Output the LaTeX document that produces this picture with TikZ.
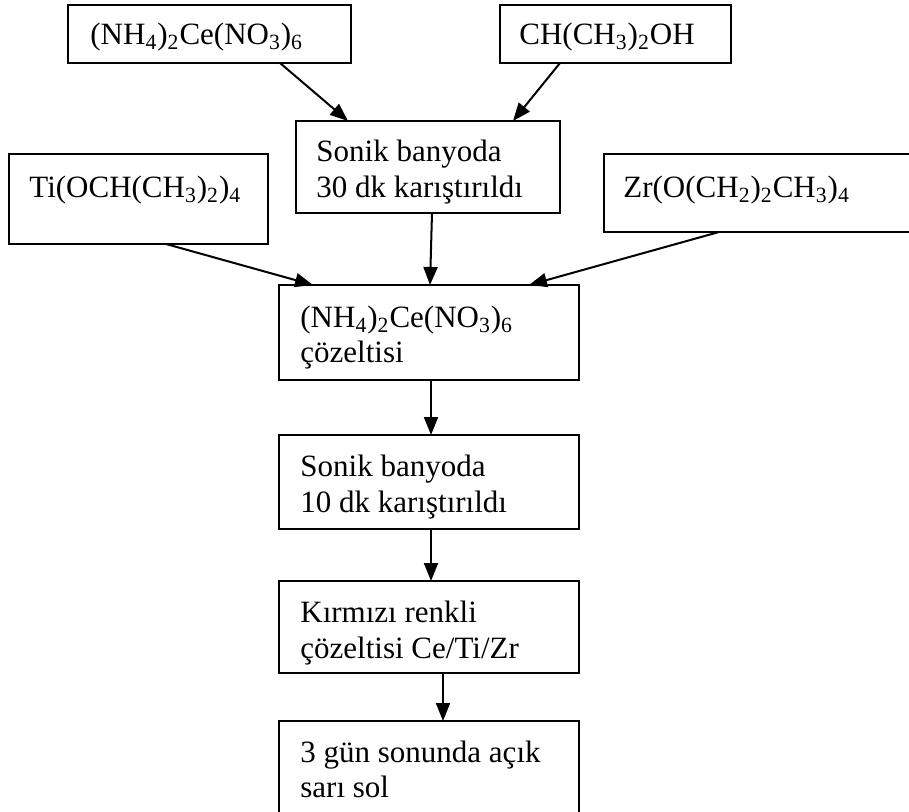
\documentclass[tikz,border=0pt]{standalone}
\usepackage{fontspec}
\setmainfont{Liberation Serif}
\usetikzlibrary{arrows.meta,calc}
\newcommand{\sbs}[1]{\textsubscript{#1}}
\begin{document}
\begin{tikzpicture}[x=0.5pt,y=-0.5pt,
  box/.style={draw, line width=1pt, inner sep=0pt, outer sep=0pt, anchor=north west},
  txt/.style={inner sep=0pt, anchor=base west, font=\fontsize{15.5}{18}\selectfont},
  arr/.style={line width=1pt, -{Triangle[length=9pt,width=7pt]}}]
\useasboundingbox (0,0) rectangle (909,812);
\clip (0,0) rectangle (909,812);
% boxes
\node[box, minimum width=141.5pt, minimum height=29pt] (b1) at (68,5) {};
\node[box, minimum width=115.5pt, minimum height=29pt] (b2) at (500,5) {};
\node[box, minimum width=132pt, minimum height=46pt] (b3) at (296,121) {};
\node[box, minimum width=129.5pt, minimum height=45pt] (b4) at (9,154) {};
\node[box, minimum width=178pt, minimum height=39pt] (b5) at (604,154) {};
\node[box, minimum width=150pt, minimum height=47.5pt] (b6) at (279,285) {};
\node[box, minimum width=150pt, minimum height=47pt] (b7) at (279,435) {};
\node[box, minimum width=150pt, minimum height=46pt] (b8) at (279,581) {};
\node[box, minimum width=150pt, minimum height=60pt] (b9) at (279,721) {};
% texts
\node[txt] (t1) at (90,45) {(NH\sbs{4})\sbs{2}Ce(NO\sbs{3})\sbs{6}};
\node[txt] (t2) at (519,45) {CH(CH\sbs{3})\sbs{2}OH};
\node[txt] (t3a) at (316,162) {Sonik banyoda};
\node[txt] (t3b) at (316,198) {30 dk karıştırıldı};
\node[txt] (t4) at (29,198) {Ti(OCH(CH\sbs{3})\sbs{2})\sbs{4}};
\node[txt] (t5) at (623,198) {Zr(O(CH\sbs{2})\sbs{2}CH\sbs{3})\sbs{4}};
\node[txt] (t6a) at (300,328) {(NH\sbs{4})\sbs{2}Ce(NO\sbs{3})\sbs{6}};
\node[txt] (t6b) at (300,362) {çözeltisi};
\node[txt] (t7a) at (300,476) {Sonik banyoda};
\node[txt] (t7b) at (300,512) {10 dk karıştırıldı};
\node[txt] (t8a) at (300,622) {Kırmızı renkli};
\node[txt] (t8b) at (300,658) {çözeltisi Ce/Ti/Zr};
\node[txt] (t9a) at (300,762) {3 gün sonunda açık};
\node[txt] (t9b) at (300,797) {sarı sol};
% arrows
\draw[arr] ($(b1.south west)+(212,0)$) -- ($(b3.north west)+(52,0)$);
\draw[arr] ($(b2.south west)+(60,0)$) -- ($(b3.north west)+(217,0)$);
\draw[arr] ($(b3.south west)+(136,0)$) -- ($(b6.north west)+(151,0)$);
\draw[arr] ($(b4.south west)+(157,0)$) -- ($(b6.north west)+(34,0)$);
\draw[arr] ($(b5.south west)+(115,0)$) -- ($(b6.north west)+(250,0)$);
\draw[arr] ($(b6.south west)+(152,0)$) -- ($(b7.north west)+(152,0)$);
\draw[arr] ($(b7.south west)+(152,0)$) -- ($(b8.north west)+(152,0)$);
\draw[arr] ($(b8.south west)+(164,0)$) -- ($(b9.north west)+(164,0)$);
\end{tikzpicture}
\end{document}
